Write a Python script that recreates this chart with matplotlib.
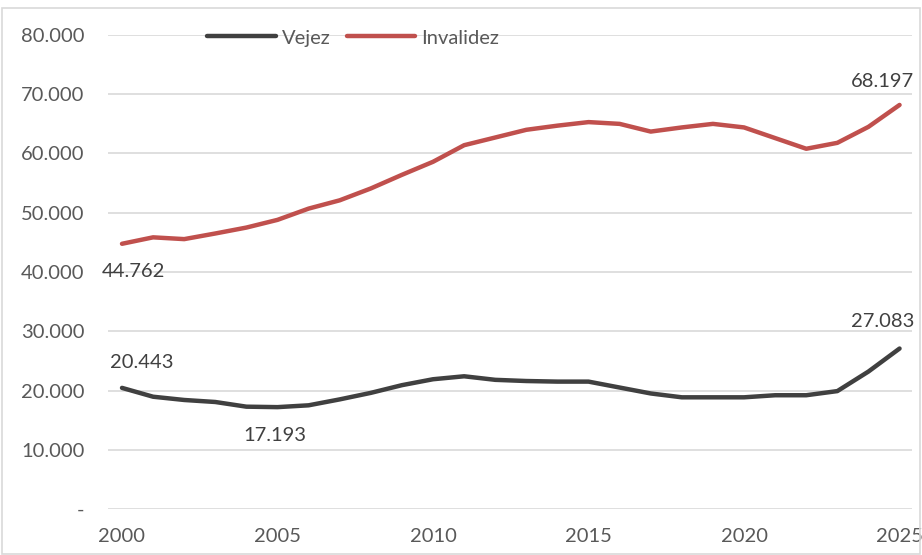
import matplotlib.pyplot as plt
from matplotlib.ticker import FuncFormatter
from matplotlib.patches import Rectangle

anios = list(range(2000, 2026))
vejez = [20443, 18950, 18400, 18060, 17270, 17193, 17500, 18500, 19600, 20900,
         21900, 22400, 21800, 21600, 21500, 21500, 20500, 19500, 18850, 18850,
         18850, 19200, 19200, 19900, 23200, 27083]
invalidez = [44762, 45850, 45550, 46500, 47500, 48800, 50700, 52100, 54100, 56400,
             58600, 61400, 62700, 64000, 64700, 65300, 65000, 63700, 64400, 65000,
             64400, 62600, 60800, 61800, 64500, 68197]

gris = "#595959"
plt.rcParams["font.family"] = ["Lato", "DejaVu Sans"]
fs = 14.5

fig = plt.figure(figsize=(9.22, 5.55), dpi=100)
ax = fig.add_axes([108 / 922, 1 - 509 / 555, (912 - 108) / 922, (509 - 35) / 555])

ax.plot(anios, vejez, color="#404040", lw=3.2, solid_capstyle="round", label="Vejez", zorder=3)
ax.plot(anios, invalidez, color="#C0504D", lw=3.2, solid_capstyle="round", label="Invalidez", zorder=3)

ax.set_ylim(0, 80000)
ax.set_xlim(1999.55, 2025.4)
ax.set_yticks(range(0, 80001, 10000))
ax.set_xticks(range(2000, 2026, 5))
ax.yaxis.set_major_formatter(FuncFormatter(lambda v, p: "-" if v == 0 else f"{v:,.0f}".replace(",", ".")))
ax.grid(axis="y", color="#d9d9d9", lw=1.2, zorder=0)
for s in ax.spines.values():
    s.set_visible(False)
ax.tick_params(length=0, labelsize=fs, colors=gris)
ax.tick_params(axis="y", pad=17)
ax.tick_params(axis="x", pad=14)

# etiquetas de datos
fmt = lambda v: f"{v:,.0f}".replace(",", ".")
ax.annotate(fmt(invalidez[0]), (anios[0], invalidez[0]), xytext=(8, -14), textcoords="offset points",
            ha="center", va="top", fontsize=fs, color="#404040")
ax.annotate(fmt(vejez[0]), (anios[0], vejez[0]), xytext=(14, 12), textcoords="offset points",
            ha="center", va="bottom", fontsize=fs, color="#404040")
ax.annotate(fmt(vejez[5]), (anios[5], vejez[5]), xytext=(-2, -14), textcoords="offset points",
            ha="center", va="top", fontsize=fs, color="#404040")
ax.annotate(fmt(vejez[-1]), (anios[-1], vejez[-1]), xytext=(-12, 13), textcoords="offset points",
            ha="center", va="bottom", fontsize=fs, color="#404040")
ax.annotate(fmt(invalidez[-1]), (anios[-1], invalidez[-1]), xytext=(-12, 11), textcoords="offset points",
            ha="center", va="bottom", fontsize=fs, color="#404040")

leg = ax.legend(loc="upper center", bbox_to_anchor=(0.305, 1.05), ncol=2, frameon=False,
                fontsize=fs, handlelength=3.4, handletextpad=0.3, columnspacing=0.8)
for t in leg.get_texts():
    t.set_color(gris)

fig.patches.append(Rectangle((0.002, 0.002), 0.996, 0.984, transform=fig.transFigure,
                             fill=False, ec="#d9d9d9", lw=1.2))

fig.savefig("out.png", dpi=100)
